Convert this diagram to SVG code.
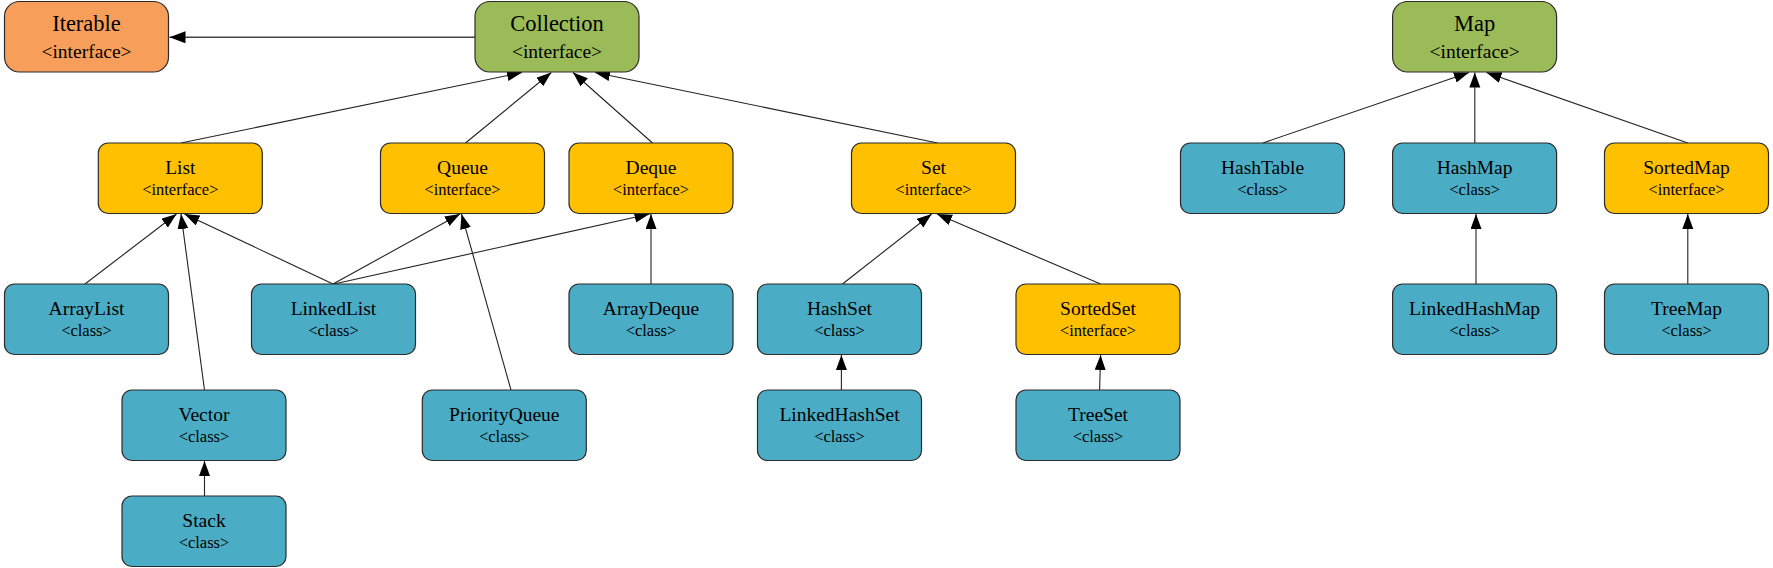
<svg xmlns="http://www.w3.org/2000/svg" width="1773" height="568" viewBox="0 0 1773 568">
<style>
  .n rect { stroke: #2b2b2b; stroke-width: 1.2; }
  .iter rect { fill: #F79F5A; }
  .root rect { fill: #9BBB59; }
  .intf rect { fill: #FFC000; }
  .cls rect { fill: #4BACC6; }
  text { font-family: "Liberation Serif", "Times New Roman", serif; fill: #000; text-anchor: middle; }
  .t { font-size: 19.5px; }
  .s { font-size: 16.5px; }
  .T { font-size: 22.5px; }
  .S { font-size: 19.5px; }
  .e line { stroke: #222; stroke-width: 1.1; fill: none; marker-end: url(#ah); }
  .e line.thick { stroke: #444; stroke-width: 1.5; marker-end: url(#ahb); }
</style>
<defs>
  <marker id="ah" markerUnits="userSpaceOnUse" markerWidth="17" markerHeight="13" refX="15" refY="5.5" orient="auto">
    <path d="M0,0 L15,5.5 L0,11 z" fill="#000"/>
  </marker>
  <marker id="ahb" markerUnits="userSpaceOnUse" markerWidth="18" markerHeight="14" refX="16" refY="6" orient="auto">
    <path d="M0,0 L16,6 L0,12 z" fill="#000"/>
  </marker>
</defs>
<rect x="0" y="0" width="1773" height="568" fill="#fff"/>
<g class="e" id="connectors">
  <line class="thick" x1="475" y1="37.3" x2="169.5" y2="37.3"/>
  <line x1="181" y1="143" x2="522" y2="72.5"/>
  <line x1="465.5" y1="143" x2="551.3" y2="72.5"/>
  <line x1="652.5" y1="143" x2="573" y2="72.5"/>
  <line x1="937.6" y1="143" x2="595" y2="72.5"/>
  <line x1="85" y1="284" x2="176.5" y2="214"/>
  <line x1="204.5" y1="390" x2="181" y2="214"/>
  <line x1="333" y1="284" x2="184.5" y2="214"/>
  <line x1="333" y1="284" x2="460" y2="214"/>
  <line x1="334" y1="284" x2="649.5" y2="214"/>
  <line x1="511" y1="390" x2="461.5" y2="214"/>
  <line x1="651" y1="284" x2="651" y2="214"/>
  <line x1="204.5" y1="496" x2="204.5" y2="461"/>
  <line x1="842.5" y1="284" x2="931.7" y2="214"/>
  <line x1="1100.6" y1="284" x2="937" y2="214"/>
  <line x1="841.4" y1="390" x2="841.4" y2="355"/>
  <line x1="1099.6" y1="390" x2="1100.6" y2="355"/>
  <line x1="1262.8" y1="143" x2="1469" y2="72.5"/>
  <line x1="1474.8" y1="143" x2="1474.8" y2="72.5"/>
  <line x1="1687.8" y1="143" x2="1486.5" y2="72.5"/>
  <line x1="1476" y1="284" x2="1476" y2="214"/>
  <line x1="1687.8" y1="284" x2="1687.8" y2="214"/>
</g>
<g id="Iterable" class="n iter"><rect x="4.5" y="1.5" width="164" height="70.5" rx="15"/><text class="T" x="86.5" y="30.5">Iterable</text><text class="S" x="86.5" y="57.5">&lt;interface&gt;</text></g>
<g id="Collection" class="n root"><rect x="475" y="1.5" width="164" height="70.5" rx="15"/><text class="T" x="557" y="30.5">Collection</text><text class="S" x="557" y="57.5">&lt;interface&gt;</text></g>
<g id="Map" class="n root"><rect x="1392.6" y="1.5" width="164" height="70.5" rx="15"/><text class="T" x="1474.6" y="30.5">Map</text><text class="S" x="1474.6" y="57.5">&lt;interface&gt;</text></g>

<g id="List" class="n intf"><rect x="98.3" y="143" width="164" height="70.5" rx="10"/><text class="t" x="180.3" y="174">List</text><text class="s" x="180.3" y="195">&lt;interface&gt;</text></g>
<g id="Queue" class="n intf"><rect x="380.5" y="143" width="164" height="70.5" rx="10"/><text class="t" x="462.5" y="174">Queue</text><text class="s" x="462.5" y="195">&lt;interface&gt;</text></g>
<g id="Deque" class="n intf"><rect x="569" y="143" width="164" height="70.5" rx="10"/><text class="t" x="651" y="174">Deque</text><text class="s" x="651" y="195">&lt;interface&gt;</text></g>
<g id="Set" class="n intf"><rect x="851.5" y="143" width="164" height="70.5" rx="10"/><text class="t" x="933.5" y="174">Set</text><text class="s" x="933.5" y="195">&lt;interface&gt;</text></g>
<g id="HashTable" class="n cls"><rect x="1180.5" y="143" width="164" height="70.5" rx="10"/><text class="t" x="1262.5" y="174">HashTable</text><text class="s" x="1262.5" y="195">&lt;class&gt;</text></g>
<g id="HashMap" class="n cls"><rect x="1392.6" y="143" width="164" height="70.5" rx="10"/><text class="t" x="1474.6" y="174">HashMap</text><text class="s" x="1474.6" y="195">&lt;class&gt;</text></g>
<g id="SortedMap" class="n intf"><rect x="1604.5" y="143" width="164" height="70.5" rx="10"/><text class="t" x="1686.5" y="174">SortedMap</text><text class="s" x="1686.5" y="195">&lt;interface&gt;</text></g>

<g id="ArrayList" class="n cls"><rect x="4.5" y="284" width="164" height="70.5" rx="10"/><text class="t" x="86.5" y="315">ArrayList</text><text class="s" x="86.5" y="336">&lt;class&gt;</text></g>
<g id="LinkedList" class="n cls"><rect x="251.5" y="284" width="164" height="70.5" rx="10"/><text class="t" x="333.5" y="315">LinkedList</text><text class="s" x="333.5" y="336">&lt;class&gt;</text></g>
<g id="ArrayDeque" class="n cls"><rect x="569" y="284" width="164" height="70.5" rx="10"/><text class="t" x="651" y="315">ArrayDeque</text><text class="s" x="651" y="336">&lt;class&gt;</text></g>
<g id="HashSet" class="n cls"><rect x="757.5" y="284" width="164" height="70.5" rx="10"/><text class="t" x="839.5" y="315">HashSet</text><text class="s" x="839.5" y="336">&lt;class&gt;</text></g>
<g id="SortedSet" class="n intf"><rect x="1016" y="284" width="164" height="70.5" rx="10"/><text class="t" x="1098" y="315">SortedSet</text><text class="s" x="1098" y="336">&lt;interface&gt;</text></g>
<g id="LinkedHashMap" class="n cls"><rect x="1392.6" y="284" width="164" height="70.5" rx="10"/><text class="t" x="1474.6" y="315">LinkedHashMap</text><text class="s" x="1474.6" y="336">&lt;class&gt;</text></g>
<g id="TreeMap" class="n cls"><rect x="1604.5" y="284" width="164" height="70.5" rx="10"/><text class="t" x="1686.5" y="315">TreeMap</text><text class="s" x="1686.5" y="336">&lt;class&gt;</text></g>

<g id="Vector" class="n cls"><rect x="122" y="390" width="164" height="70.5" rx="10"/><text class="t" x="204" y="421">Vector</text><text class="s" x="204" y="442">&lt;class&gt;</text></g>
<g id="PriorityQueue" class="n cls"><rect x="422.3" y="390" width="164" height="70.5" rx="10"/><text class="t" x="504.3" y="421">PriorityQueue</text><text class="s" x="504.3" y="442">&lt;class&gt;</text></g>
<g id="LinkedHashSet" class="n cls"><rect x="757.5" y="390" width="164" height="70.5" rx="10"/><text class="t" x="839.5" y="421">LinkedHashSet</text><text class="s" x="839.5" y="442">&lt;class&gt;</text></g>
<g id="TreeSet" class="n cls"><rect x="1016" y="390" width="164" height="70.5" rx="10"/><text class="t" x="1098" y="421">TreeSet</text><text class="s" x="1098" y="442">&lt;class&gt;</text></g>

<g id="Stack" class="n cls"><rect x="122" y="496" width="164" height="70.5" rx="10"/><text class="t" x="204" y="527">Stack</text><text class="s" x="204" y="548">&lt;class&gt;</text></g>
</svg>
